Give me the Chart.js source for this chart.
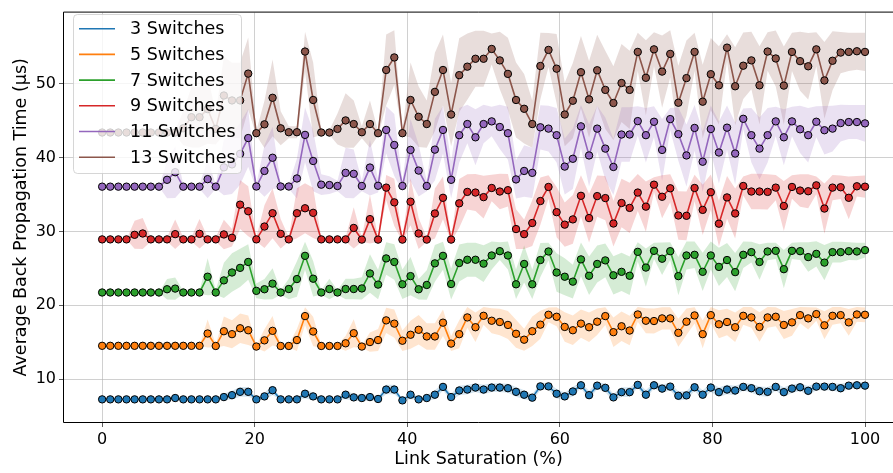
<!DOCTYPE html>
<html>
<head>
<meta charset="utf-8">
<script src="https://cdn.jsdelivr.net/npm/chart.js@4.4.1/dist/chart.umd.min.js"></script>
<style>
  html, body { margin: 0; padding: 0; background: #fff; }
  canvas { display: block; }
</style>
</head>
<body>
<canvas id="propChart" width="893" height="473"></canvas>
<script>
// tick labels
const xTicks = [0, 20, 40, 60, 80, 100];
const yTicks = [10, 20, 30, 40, 50];

const seriesNames = ['3 Switches', '5 Switches', '7 Switches', '9 Switches', '11 Switches', '13 Switches'];

// mean values, one per sample (95 samples over 0..100 %)
const sw3 = [7.24,7.24,7.24,7.24,7.24,7.24,7.24,7.24,7.24,7.42,
  7.24,7.24,7.24,7.24,7.24,7.55,7.81,8.26,8.26,7.24,
  7.64,8.48,7.24,7.24,7.24,8.0,7.64,7.24,7.24,7.24,
  7.87,7.51,7.42,7.55,7.29,8.57,8.57,7.1,7.87,7.24,
  7.42,7.87,8.93,7.55,8.44,8.57,8.84,8.57,8.84,8.84,
  8.75,8.26,7.87,7.47,9.0,9.0,8.0,7.64,8.31,9.15,
  7.81,9.1,8.8,7.51,8.22,8.22,9.2,7.87,9.15,8.7,
  8.97,7.73,7.78,8.88,7.87,8.84,8.22,8.57,8.44,8.93,
  8.75,8.35,8.26,8.93,8.22,8.7,8.88,8.4,8.97,8.97,
  8.93,8.75,9.1,9.15,9.1];
const sw5 = [14.5,14.5,14.5,14.5,14.5,14.5,14.5,14.5,14.5,14.5,
  14.5,14.5,14.5,16.17,14.48,16.48,16.08,16.88,16.61,14.4,
  15.24,16.53,14.48,14.48,15.28,18.53,16.44,14.48,14.48,14.48,
  14.84,16.21,14.4,15.01,15.28,17.95,17.51,15.19,16.0,16.67,
  15.77,15.77,17.64,14.8,16.08,18.35,17.02,18.57,17.9,17.73,
  17.33,16.13,15.33,16.48,17.37,18.71,18.44,17.06,16.61,17.51,
  17.02,17.77,18.53,16.35,17.15,16.57,18.75,17.9,17.86,18.22,
  18.22,16.26,17.77,18.62,16.08,18.66,17.42,17.73,17.02,18.57,
  18.35,17.06,18.35,18.44,17.33,17.68,18.66,18.22,18.8,17.28,
  18.57,18.66,17.68,18.75,18.71];
const sw7 = [21.73,21.73,21.73,21.73,21.73,21.73,21.73,21.73,22.17,22.26,
  21.73,21.73,21.73,23.87,21.73,23.37,24.44,25.07,25.87,21.95,
  22.17,22.93,21.73,22.2,23.55,26.7,23.6,21.73,22.2,21.73,
  22.2,22.2,22.28,24.31,22.8,26.35,25.87,22.84,23.95,22.17,
  22.75,25.68,26.7,22.88,25.73,26.17,26.17,25.64,26.75,27.33,
  26.75,22.84,25.6,22.84,26.13,27.29,24.44,23.87,23.2,26.22,
  24.0,25.6,26.08,24.06,24.53,24.0,27.24,25.11,27.38,26.31,
  27.33,23.95,26.75,26.84,24.53,26.75,25.2,26.13,24.49,26.84,
  27.2,25.87,27.29,27.38,24.89,27.38,27.33,26.53,26.97,25.78,
  27.2,27.2,27.33,27.29,27.47];
const sw9 = [28.93,28.93,28.93,28.93,29.55,29.73,28.93,28.93,28.93,29.64,
  28.93,28.93,29.68,28.93,28.93,29.6,29.15,33.64,32.75,28.93,
  30.67,32.48,29.68,28.93,32.48,33.15,32.53,28.93,28.93,28.93,
  28.93,30.48,28.9,31.68,28.9,35.95,33.95,28.9,34.04,29.73,
  28.9,32.44,34.57,28.9,33.82,35.37,35.28,34.66,35.9,35.42,
  35.6,30.33,29.64,31.15,34.13,36.04,32.62,30.93,31.64,34.84,
  31.82,34.8,34.53,31.08,33.86,33.2,35.28,33.37,36.35,34.71,
  35.86,32.17,32.13,35.9,32.93,35.33,31.06,34.62,32.44,36.17,
  35.42,35.42,35.37,35.95,33.46,36.04,35.55,35.46,36.26,33.11,
  35.95,36.0,34.57,36.13,36.08];
const sw11 = [36.08,36.08,36.08,36.08,36.08,36.08,36.08,36.08,37.01,38.04,
  36.08,36.08,36.08,37.1,36.08,38.7,39.1,40.53,42.67,36.1,
  38.21,40.0,36.1,36.1,37.19,43.1,39.56,36.35,36.3,36.17,
  37.95,37.82,36.17,38.67,36.2,43.77,41.73,36.17,41.06,38.26,
  36.17,41.1,43.77,37.01,43.06,44.57,42.77,44.57,44.93,44.17,
  43.33,37.06,38.21,37.95,44.13,43.95,43.06,38.8,39.86,44.26,
  40.31,43.95,41.24,38.75,43.15,43.15,44.97,43.06,44.88,41.06,
  45.24,43.2,40.31,44.04,39.46,43.9,40.71,44.08,40.57,45.28,
  43.06,41.24,43.06,44.93,42.77,44.93,43.86,43.06,44.88,43.73,
  43.95,44.7,44.84,44.84,44.66];
const sw13 = [43.42,43.42,43.42,43.42,43.42,43.42,43.42,43.42,43.42,43.42,
  44.0,45.5,45.5,46.6,43.9,48.44,47.77,47.77,51.41,43.33,
  44.53,48.13,43.99,43.46,43.46,54.4,47.83,43.42,43.42,43.91,
  45.06,44.57,43.46,44.57,43.33,51.9,53.6,43.33,47.83,45.55,
  44.57,48.93,51.9,45.86,51.2,52.35,53.42,53.42,54.75,53.2,
  51.37,47.83,46.64,44.57,52.44,54.62,52.08,45.86,47.73,51.6,
  47.91,51.86,49.2,47.42,50.13,49.2,54.35,50.84,54.7,51.68,
  54.08,47.46,50.8,54.35,47.6,51.33,49.82,54.93,49.69,52.48,
  53.2,49.82,54.4,53.46,49.78,54.35,53.1,52.4,54.7,50.48,
  53.15,54.26,54.35,54.44,54.35];

// spread (shaded band half-width) per sample
const sw3Std = [0,0,0,0,0,0,0,0,0,0.25,
  0,0,0,0,0,0.45,0.6,0.65,0.65,0.1,
  0.5,0.65,0.1,0.1,0.1,0.65,0.5,0.1,0.1,0.1,
  0.6,0.45,0.4,0.45,0.25,0.65,0.65,0.1,0.6,0.1,
  0.4,0.6,0.5,0.45,0.65,0.65,0.6,0.65,0.6,0.6,
  0.6,0.65,0.6,0.45,0.5,0.5,0.65,0.5,0.65,0.4,
  0.6,0.45,0.6,0.45,0.65,0.65,0.4,0.6,0.4,0.6,
  0.5,0.6,0.6,0.5,0.6,0.6,0.65,0.65,0.65,0.5,
  0.6,0.65,0.65,0.5,0.65,0.6,0.5,0.65,0.5,0.5,
  0.5,0.6,0.45,0.4,0.45];
const sw5Std = [0,0,0,0,0,0,0,0,0,0,
  0,0,0,1.9,0.2,2.0,1.9,2.0,2.0,0.2,
  1.5,2.0,0.2,0.2,1.5,1.2,2.0,0.2,0.2,0.2,
  1.0,1.9,0.2,1.3,1.5,1.7,1.9,1.4,1.9,2.0,
  1.8,1.8,1.8,1.0,1.9,1.4,2.0,1.2,1.7,1.8,
  1.9,1.9,1.5,2.0,1.9,1.0,1.3,2.0,2.0,1.9,
  2.0,1.8,1.2,2.0,2.0,2.0,1.0,1.7,1.7,1.5,
  1.5,1.9,1.8,1.1,1.9,1.1,1.9,1.8,2.0,1.2,
  1.4,2.0,1.4,1.3,1.9,1.8,1.1,1.5,0.9,1.9,
  1.2,1.1,1.8,1.0,1.0];
const sw7Std = [0,0,0,0,0,0,0,0,1.4,1.5,
  0.2,0.2,0.2,2.5,0.3,2.4,2.6,2.6,2.4,1.0,
  1.4,2.1,0.3,1.4,2.4,1.9,2.4,0.3,1.4,0.3,
  1.4,1.4,1.5,2.6,2.0,2.2,2.4,2.0,2.6,1.4,
  2.0,2.5,1.9,2.1,2.5,2.3,2.3,2.5,1.9,1.2,
  1.9,2.0,2.5,2.0,2.3,1.2,2.6,2.5,2.3,2.3,
  2.6,2.5,2.3,2.6,2.6,2.6,1.3,2.6,1.1,2.2,
  1.2,2.6,1.9,1.8,2.6,1.9,2.6,2.3,2.6,1.8,
  1.4,2.4,1.2,1.1,2.6,1.1,1.2,2.0,1.7,2.4,
  1.4,1.4,1.2,1.2,1.0];
const sw9Std = [0,0,0,0,1.9,2.1,0.3,0.3,0.3,2.0,
  0.3,0.3,2.0,0.3,0.3,2.0,1.2,3.3,3.4,0.3,
  2.9,3.4,2.0,0.3,3.4,3.4,3.4,0.3,0.3,0.3,
  0.3,2.8,0.3,3.3,0.3,1.7,3.2,0.3,3.2,2.1,
  0.3,3.4,2.9,0.3,3.3,2.4,2.5,2.9,1.8,2.4,
  2.2,2.7,2.0,3.1,3.2,1.6,3.4,3.0,3.3,2.8,
  3.3,2.8,3.0,3.1,3.3,3.4,2.5,3.4,1.0,2.9,
  1.9,3.3,3.3,1.8,3.4,2.4,3.1,2.9,3.4,1.3,
  2.4,2.4,2.4,1.7,3.4,1.6,2.2,2.3,1.2,3.4,
  1.7,1.6,2.9,1.4,1.5];
const sw11Std = [0,0,0,0,0,0,0,0,2.5,3.5,
  0.3,0.3,0.3,2.6,0.3,3.8,4.0,4.2,3.9,0.3,
  3.5,4.2,0.3,0.3,2.7,3.7,4.1,1.4,1.2,0.7,
  3.4,3.3,0.7,3.8,0.9,3.2,4.2,0.7,4.2,3.5,
  0.7,4.2,3.2,2.5,3.7,2.6,3.8,2.6,2.0,3.0,
  3.6,2.6,3.5,3.4,3.0,3.1,3.7,3.8,4.1,2.9,
  4.2,3.1,4.2,3.8,3.7,3.7,2.0,3.7,2.1,4.2,
  1.5,3.6,4.2,3.1,4.1,3.2,4.2,3.0,4.2,1.4,
  3.7,4.2,3.7,2.0,3.8,2.0,3.2,3.7,2.1,3.3,
  3.1,2.5,2.3,2.3,2.5];
const sw13Std = [0,0,0,0,0,0,0,0,0.3,0.3,
  2.3,4.1,4.1,4.7,2.1,5.3,5.1,5.1,4.9,0.3,
  3.2,5.2,2.3,0.8,0.8,2.7,5.1,0.3,0.3,2.1,
  3.7,3.2,0.8,3.2,0.3,4.8,3.7,0.3,5.1,4.1,
  3.2,5.3,4.8,4.3,5.0,4.5,3.8,3.8,2.1,3.9,
  4.9,5.1,4.7,3.2,4.5,2.3,4.7,4.3,5.1,4.9,
  5.2,4.8,5.3,5.0,5.3,5.3,2.6,5.1,2.3,4.9,
  3.2,5.0,5.1,2.6,5.0,4.9,5.3,1.8,5.3,4.5,
  3.9,5.3,2.6,3.8,5.3,2.6,4.0,4.5,2.3,5.2,
  4.0,2.8,2.6,2.5,2.6];

const means = [sw3, sw5, sw7, sw9, sw11, sw13];
const spreads = [sw3Std, sw5Std, sw7Std, sw9Std, sw11Std, sw13Std];
const colors = ['#1f77b4', '#ff7f0e', '#2ca02c', '#d62728', '#9467bd', '#8c564b'];

// samples are evenly spaced from 0 to 100 %
const saturation = sw3.map((_, i) => i * 100 / (sw3.length - 1));

function withAlpha(hex, a) {
    const n = parseInt(hex.slice(1), 16);
    return `rgba(${(n >> 16) & 255}, ${(n >> 8) & 255}, ${n & 255}, ${a})`;
}

let datasets = [];
// shaded bands: upper edge filled down to the lower edge (next dataset)
means.forEach((m, k) => {
    datasets.push({
        data: m.map((v, i) => ({x: saturation[i], y: v + spreads[k][i]})),
        fill: '+1',
        backgroundColor: withAlpha(colors[k], 0.2),
        borderColor: 'rgba(0,0,0,0)',
        borderWidth: 0,
        pointRadius: 0,
        order: 20 + k
    });
    datasets.push({
        data: m.map((v, i) => ({x: saturation[i], y: v - spreads[k][i]})),
        fill: false,
        borderColor: 'rgba(0,0,0,0)',
        borderWidth: 0,
        pointRadius: 0,
        order: 20 + k
    });
});
// the lines with markers
means.forEach((m, k) => {
    datasets.push({
        label: seriesNames[k],
        data: m.map((v, i) => ({x: saturation[i], y: v})),
        fill: false,
        borderColor: colors[k],
        backgroundColor: colors[k],
        borderWidth: 1.6,
        pointRadius: 3.7,
        pointBackgroundColor: colors[k],
        pointBorderColor: '#000',
        pointBorderWidth: 1,
        order: 6 - k
    });
});

// axes frame (matplotlib style spines), right spine falls outside the picture
const framePlugin = {
    id: 'frame',
    afterDatasetsDraw(chart) {
        const {ctx, chartArea: a} = chart;
        ctx.save();
        ctx.strokeStyle = '#000';
        ctx.lineWidth = 1;
        ctx.beginPath();
        ctx.moveTo(a.left - 0.5, a.top - 0.5);
        ctx.lineTo(a.right + 1, a.top - 0.5);
        ctx.moveTo(a.left - 0.5, a.top - 0.5);
        ctx.lineTo(a.left - 0.5, a.bottom + 0.5);
        ctx.lineTo(a.right + 1, a.bottom + 0.5);
        ctx.stroke();
        ctx.restore();
    }
};

// legend box in the upper left corner of the plot
const legendPlugin = {
    id: 'boxLegend',
    afterDraw(chart) {
        const ctx = chart.ctx;
        const x0 = 73.5, y0 = 14.5, w = 168, h = 159, r = 4;
        ctx.save();
        ctx.beginPath();
        ctx.roundRect(x0, y0, w, h, r);
        ctx.fillStyle = 'rgba(255,255,255,0.8)';
        ctx.fill();
        ctx.strokeStyle = 'rgba(204,204,204,0.8)';
        ctx.lineWidth = 1;
        ctx.stroke();
        ctx.font = '17.5px "DejaVu Sans"';
        ctx.textBaseline = 'middle';
        ctx.textAlign = 'left';
        seriesNames.forEach((name, k) => {
            const y = 28.7 + k * 25.7;
            ctx.strokeStyle = colors[k];
            ctx.lineWidth = 1.6;
            ctx.beginPath();
            ctx.moveTo(79, y);
            ctx.lineTo(115, y);
            ctx.stroke();
            ctx.fillStyle = '#000';
            ctx.fillText(name, 130, y + 1);
        });
        ctx.restore();
    }
};

Chart.defaults.font.family = '"DejaVu Sans", sans-serif';
Chart.defaults.color = '#000';

const gridColor = 'rgba(176,176,176,0.75)';

const chart = new Chart(document.getElementById('propChart').getContext('2d'), {
    type: 'line',
    data: { datasets: datasets },
    options: {
        responsive: false,
        animation: false,
        devicePixelRatio: 1,
        events: [],
        layout: { padding: { top: 6, right: 0, bottom: 0, left: 0 }, autoPadding: false },
        plugins: {
            legend: { display: false },
            tooltip: { enabled: false }
        },
        elements: { line: { tension: 0 } },
        scales: {
            x: {
                type: 'linear',
                min: -5,
                max: 103.67,
                afterBuildTicks: s => { s.ticks = xTicks.map(v => ({ value: v })); },
                afterFit: s => { s.height = 51; },
                ticks: { font: { size: 16 }, padding: 3, maxRotation: 0, autoSkip: false },
                grid: { color: gridColor, lineWidth: 0.8, tickLength: 5, tickColor: '#333', drawTicks: true },
                border: { display: false },
                title: { display: true, text: 'Link Saturation (%)', font: { size: 17.5 }, padding: { top: 0, bottom: 3 } }
            },
            y: {
                type: 'linear',
                min: 4.17,
                max: 59.68,
                afterBuildTicks: s => { s.ticks = yTicks.map(v => ({ value: v })); },
                afterFit: s => { s.width = 64; },
                ticks: { font: { size: 16 }, padding: 3 },
                grid: { color: gridColor, lineWidth: 0.8, tickLength: 5, tickColor: '#333', drawTicks: true },
                border: { display: false },
                title: { display: true, text: 'Average Back Propagation Time (μs)', font: { size: 17.5 }, padding: { top: 11, bottom: 0 } }
            }
        }
    },
    plugins: [framePlugin, legendPlugin]
});
</script>
</body>
</html>
